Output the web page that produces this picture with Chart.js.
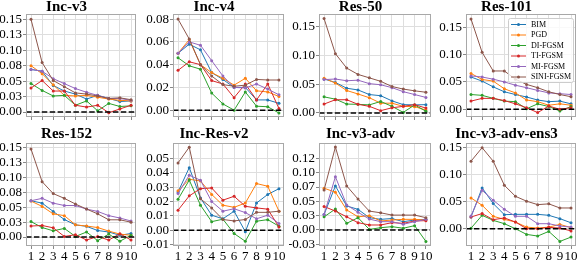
<!DOCTYPE html>
<html>
<head>
<meta charset="utf-8">
<script src="https://cdn.jsdelivr.net/npm/chart.js@4.4.0/dist/chart.umd.min.js"></script>
<style>
  html, body { margin: 0; padding: 0; background: #fff; }
  #wrap { position: relative; width: 581px; height: 262px; overflow: hidden; background: #fff; }
  #wrap canvas { position: absolute; }
</style>
</head>
<body>
<div id="wrap"></div>
<script>
// x axis: attack iterations
const steps = [1, 2, 3, 4, 5, 6, 7, 8, 9, 10]
const methods = ["BIM", "PGD", "DI-FGSM", "TI-FGSM", "MI-FGSM", "SINI-FGSM"]
const colors = ["#1f77b4", "#ff7f0e", "#2ca02c", "#d62728", "#9467bd", "#8c564b"]

// rows are in the order of `methods`
const incV3 = [
  [0.069, 0.066, 0.043, 0.034, 0.029, 0.021, 0.027, 0.022, 0.017, 0.018],
  [0.075, 0.062, 0.044, 0.027, 0.026, 0.027, 0.024, 0.021, 0.019, 0.018],
  [0.046, 0.035, 0.026, 0.027, 0.011, 0.018, 0.002, 0.014, 0.009, 0.010],
  [0.039, 0.051, 0.034, 0.034, 0.011, 0.008, 0.011, -0.001, 0.005, 0.011],
  [0.069, 0.066, 0.054, 0.046, 0.038, 0.032, 0.027, 0.022, 0.022, 0.019],
  [0.150, 0.080, 0.051, 0.041, 0.031, 0.029, 0.026, 0.022, 0.023, 0.020],
]
const incV4 = [
  [0.050, 0.058, 0.053, 0.033, 0.027, 0.020, 0.020, 0.009, 0.009, 0.006],
  [0.050, 0.062, 0.040, 0.033, 0.028, 0.022, 0.028, 0.017, 0.016, 0.012],
  [0.046, 0.039, 0.036, 0.015, 0.0055, 0.000, 0.016, 0.0035, 0.003, -0.0025],
  [0.035, 0.0425, 0.040, 0.026, 0.023, 0.011, 0.023, 0.009, 0.023, 0.0015],
  [0.050, 0.060, 0.057, 0.0435, 0.030, 0.020, 0.0195, 0.023, 0.0185, 0.0135],
  [0.080, 0.0625, 0.040, 0.030, 0.0225, 0.021, 0.022, 0.027, 0.0265, 0.0265],
]
const res50 = [
  [0.059, 0.053, 0.043, 0.040, 0.032, 0.030, 0.021, 0.0145, 0.014, 0.0145],
  [0.0605, 0.052, 0.039, 0.033, 0.0265, 0.017, 0.017, 0.0115, 0.011, 0.005],
  [0.028, 0.024, 0.0155, 0.015, 0.014, 0.020, 0.0115, 0.001, 0.014, 0.003],
  [0.0155, 0.023, 0.023, 0.015, 0.0115, 0.004, 0.009, 0.0115, 0.0145, 0.0085],
  [0.058, 0.059, 0.056, 0.057, 0.051, 0.049, 0.044, 0.037, 0.032, 0.027],
  [0.164, 0.103, 0.078, 0.067, 0.061, 0.055, 0.046, 0.0415, 0.0385, 0.036],
]
const res101 = [
  [0.059, 0.0515, 0.041, 0.032, 0.027, 0.0225, 0.017, 0.014, 0.015, 0.010],
  [0.0655, 0.0545, 0.0515, 0.0375, 0.030, 0.017, 0.014, 0.0075, 0.010, 0.0075],
  [0.027, 0.0255, 0.020, 0.015, 0.014, 0.001, 0.010, 0.005, -0.003, 0.005],
  [0.015, 0.020, 0.020, 0.016, 0.010, 0.003, -0.006, 0.006, 0.000, 0.003],
  [0.061, 0.059, 0.055, 0.050, 0.044, 0.0395, 0.0345, 0.030, 0.0285, 0.027],
  [0.165, 0.104, 0.070, 0.070, 0.055, 0.0455, 0.0395, 0.032, 0.027, 0.023],
]
const res152 = [
  [0.061, 0.057, 0.043, 0.0295, 0.0205, 0.018, 0.011, 0.0085, 0.003, 0.006],
  [0.0605, 0.0515, 0.039, 0.036, 0.0205, 0.0185, 0.016, 0.010, 0.005, 0.003],
  [0.026, 0.016, 0.0105, 0.0145, 0.001, 0.0085, -0.006, 0.005, -0.007, 0.003],
  [0.0185, 0.0195, 0.0155, 0.001, 0.004, -0.005, 0.001, -0.005, 0.0055, -0.005],
  [0.061, 0.065, 0.057, 0.053, 0.053, 0.047, 0.043, 0.036, 0.032, 0.027],
  [0.148, 0.093, 0.073, 0.065, 0.0555, 0.047, 0.039, 0.029, 0.029, 0.025],
]
const incResV2 = [
  [0.0267, 0.0437, 0.0225, 0.0105, 0.008, 0.0133, -0.001, 0.019, 0.025, 0.029],
  [0.0275, 0.0356, 0.0344, 0.025, 0.0175, 0.016, 0.019, 0.0326, 0.0307, 0.0133],
  [0.0216, 0.035, 0.0175, 0.006, 0.0077, -0.0023, -0.0077, 0.0063, 0.0074, 0.0028],
  [0.014, 0.024, 0.029, 0.0295, 0.021, 0.0237, 0.0167, 0.0156, 0.0147, 0.0023],
  [0.0256, 0.0384, 0.0349, 0.020, 0.0133, 0.015, 0.0123, 0.008, 0.0105, 0.0047],
  [0.047, 0.058, 0.022, 0.0155, 0.0075, 0.0065, 0.0075, 0.0125, 0.0125, 0.0133],
]
const incV3Adv = [
  [0.027, 0.077, 0.042, 0.036, 0.0215, 0.0186, 0.020, 0.0145, 0.0174, 0.0186],
  [0.073, 0.066, 0.035, 0.023, 0.025, 0.0157, 0.0174, 0.0186, 0.0186, 0.0174],
  [0.023, 0.0366, 0.0116, 0.0215, 0.001, 0.004, 0.0058, 0.003, 0.0076, -0.020],
  [0.041, 0.033, 0.023, 0.0128, 0.0087, 0.0087, 0.0128, 0.0116, 0.0157, 0.0163],
  [0.027, 0.093, 0.0436, 0.031, 0.019, 0.0145, 0.0145, 0.010, 0.0145, 0.0186],
  [0.070, 0.145, 0.077, 0.054, 0.033, 0.030, 0.026, 0.026, 0.026, 0.0215],
]
const incV3AdvEns3 = [
  [0.0217, 0.0756, 0.0465, 0.026, 0.0266, 0.0266, 0.0266, 0.0248, 0.0186, 0.011],
  [0.057, 0.0434, 0.023, 0.0173, 0.0124, 0.003, 0.0012, 0.003, 0.008, 0.002],
  [0.001, 0.0248, 0.0155, 0.0093, 0.000, -0.0105, -0.0136, -0.005, -0.0235, -0.0155],
  [0.0217, 0.028, 0.0167, 0.020, 0.0124, 0.000, 0.000, 0.0025, 0.0012, -0.004],
  [0.0235, 0.071, 0.0527, 0.036, 0.023, 0.023, 0.0093, 0.0093, 0.005, 0.003],
  [0.125, 0.150, 0.125, 0.0805, 0.060, 0.051, 0.0446, 0.046, 0.0384, 0.0384],
]

// y tick values and their printed labels
const ticksQuarter = [0, 0.025, 0.05, 0.075, 0.1, 0.125, 0.15]
const labelsQuarter = ["0.00", "0.03", "0.05", "0.08", "0.10", "0.13", "0.15"]
const ticksV4 = [0, 0.02, 0.04, 0.06, 0.08]
const labelsV4 = ["0.00", "0.02", "0.04", "0.06", "0.08"]
const ticksHalf = [0, 0.05, 0.1, 0.15]
const labelsHalf = ["0.00", "0.05", "0.10", "0.15"]
const ticksIncRes = [-0.01, 0, 0.01, 0.02, 0.03, 0.04, 0.05]
const labelsIncRes = ["-0.01", "0.00", "0.01", "0.02", "0.03", "0.04", "0.05"]
const ticksAdv = [-0.025, 0, 0.025, 0.05, 0.075, 0.1, 0.125]
const labelsAdv = ["-0.03", "0.00", "0.03", "0.05", "0.07", "0.10", "0.12"]

const panels = [
  { title: "Inc-v3", data: incV3, ticks: ticksQuarter, labels: labelsQuarter, min: -0.008, max: 0.1586, row: 0, col: 0 },
  { title: "Inc-v4", data: incV4, ticks: ticksV4, labels: labelsV4, min: -0.006, max: 0.0845, row: 0, col: 1 },
  { title: "Res-50", data: res50, ticks: ticksHalf, labels: labelsHalf, min: -0.007, max: 0.172, row: 0, col: 2 },
  { title: "Res-101", data: res101, ticks: ticksHalf, labels: labelsHalf, min: -0.014, max: 0.174, row: 0, col: 3, legend: true },
  { title: "Res-152", data: res152, ticks: ticksQuarter, labels: labelsQuarter, min: -0.015, max: 0.158, row: 1, col: 0 },
  { title: "Inc-Res-v2", data: incResV2, ticks: ticksIncRes, labels: labelsIncRes, min: -0.011, max: 0.0609, row: 1, col: 1 },
  { title: "Inc-v3-adv", data: incV3Adv, ticks: ticksAdv, labels: labelsAdv, min: -0.028, max: 0.152, row: 1, col: 2 },
  { title: "Inc-v3-adv-ens3", data: incV3AdvEns3, ticks: ticksHalf, labels: labelsHalf, min: -0.032, max: 0.1587, row: 1, col: 3 },
]

// layout in page pixels
const plotLeft = [26, 173, 319, 466]
const plotRight = [137, 285, 432, 577]
const rowTop = [0, 127]
const rowHeight = [121, 135]
const axisW = 30
const serif = "'Liberation Serif', 'Times New Roman', serif"

// frame, dashed zero line and the one legend
const decoPlugin = {
  id: "deco",
  afterDatasetsDraw(chart, args, opts) {
    const { ctx, chartArea: a, scales } = chart
    const y0 = scales.y.getPixelForValue(0)
    ctx.save()
    ctx.strokeStyle = "#000"
    ctx.lineWidth = 1.5
    ctx.setLineDash([5.5, 2.4])
    ctx.beginPath()
    ctx.moveTo(a.left, y0)
    ctx.lineTo(a.right, y0)
    ctx.stroke()
    ctx.setLineDash([])
    ctx.strokeStyle = "#a8a8a8"
    ctx.lineWidth = 1
    ctx.strokeRect(a.left + 0.5, a.top + 0.5, a.right - a.left - 1, a.bottom - a.top - 1)
    ctx.restore()
  },
  afterDraw(chart, args, opts) {
    if (!opts.show) return
    const { ctx, chartArea: a } = chart
    const w = 65, h = 64
    const x0 = a.right - w - 3, y0 = a.top + 4
    ctx.save()
    ctx.beginPath()
    ctx.roundRect(x0 + 0.5, y0 + 0.5, w, h, 2)
    ctx.fillStyle = "rgba(255,255,255,0.8)"
    ctx.fill()
    ctx.strokeStyle = "#cccccc"
    ctx.lineWidth = 1
    ctx.stroke()
    ctx.font = "8px " + serif
    ctx.textBaseline = "middle"
    methods.forEach((m, i) => {
      const y = y0 + 6.5 + i * 10.5
      ctx.strokeStyle = colors[i]
      ctx.lineWidth = 1
      ctx.beginPath()
      ctx.moveTo(x0 + 3, y)
      ctx.lineTo(x0 + 18, y)
      ctx.stroke()
      ctx.fillStyle = colors[i]
      ctx.beginPath()
      ctx.arc(x0 + 10.5, y, 1.5, 0, Math.PI * 2)
      ctx.fill()
      ctx.fillStyle = "#000"
      ctx.fillText(m, x0 + 23, y)
    })
    ctx.restore()
  },
}

const wrap = document.getElementById("wrap")

panels.forEach((p) => {
  const canvas = document.createElement("canvas")
  const left = plotLeft[p.col] - axisW
  const width = plotRight[p.col] - plotLeft[p.col] + axisW + 3
  canvas.width = width
  canvas.height = rowHeight[p.row]
  canvas.style.left = left + "px"
  canvas.style.top = rowTop[p.row] + "px"
  canvas.style.width = width + "px"
  canvas.style.height = rowHeight[p.row] + "px"
  wrap.appendChild(canvas)

  // draw SINI last so it sits on top, like the original
  const datasets = methods.map((m, i) => ({
    label: m,
    data: p.data[i].map((v, k) => ({ x: steps[k], y: v })),
    borderColor: colors[i],
    backgroundColor: colors[i],
    borderWidth: 1,
    pointRadius: 1.5,
    pointBorderWidth: 0,
    tension: 0,
  })).reverse()

  new Chart(canvas, {
    type: "line",
    data: { datasets },
    options: {
      responsive: false,
      animation: false,
      devicePixelRatio: 1,
      layout: { padding: { left: 0, right: 3, top: 0, bottom: 0 } },
      plugins: {
        legend: { display: false },
        tooltip: { enabled: false },
        title: {
          display: true,
          text: p.title,
          color: "#000",
          font: { family: serif, size: 15, weight: "bold", lineHeight: 1 },
          padding: { top: 0, bottom: p.row === 0 ? -1 : 1 },
        },
        deco: { show: !!p.legend },
      },
      scales: {
        x: {
          type: "linear",
          min: 0.55,
          max: 10.45,
          afterBuildTicks: (axis) => { axis.ticks = steps.map((v) => ({ value: v })) },
          afterFit: (scale) => {
            scale.height = p.row === 0 ? 4 : 16
            scale.paddingLeft = 0
            scale.paddingRight = 0
          },
          ticks: {
            display: p.row === 1,
            color: "#000",
            padding: 0,
            maxRotation: 0,
            autoSkip: false,
            font: { family: serif, size: 13 },
            callback: (v) => String(v),
          },
          grid: { color: "#dedede", lineWidth: 1, tickLength: 3, tickColor: "#888" },
          border: { display: false },
        },
        y: {
          min: p.min,
          max: p.max,
          afterBuildTicks: (axis) => { axis.ticks = p.ticks.map((v) => ({ value: v })) },
          afterFit: (scale) => {
            scale.width = axisW
            scale.paddingTop = 0
            scale.paddingBottom = 0
          },
          ticks: {
            color: "#000",
            padding: 1,
            autoSkip: false,
            font: { family: serif, size: 13 },
            callback: (v, i) => p.labels[i],
          },
          grid: { color: "#dedede", lineWidth: 1, tickLength: 3, tickColor: "#888" },
          border: { display: false },
        },
      },
    },
    plugins: [decoPlugin],
  })
})
</script>
</body>
</html>
